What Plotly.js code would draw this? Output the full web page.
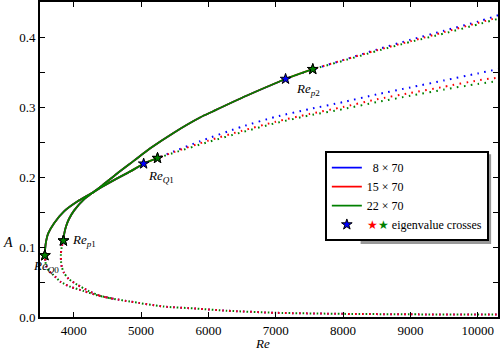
<!DOCTYPE html>
<html>
<head>
<meta charset="utf-8">
<script src="https://cdn.plot.ly/plotly-3.0.1.min.js"></script>
<style>html,body{margin:0;padding:0;background:#fff}</style>
</head>
<body>
<div id="chart" style="width:500px;height:350px"></div>
<script>
// resolutions and colours
var resNames = ['\u00a0\u00a08 × 70', '15 × 70', '22 × 70'];
var resColors = ['#0000ff', '#ff0000', '#008000'];

// solid branch from Re_Q0 up to Re_Q1
var qRe = [3572, 3576, 3590, 3620, 3709, 3857, 4054, 4251, 4424, 4645, 4842, 5039, 5245];
var qA  = [0.088, 0.097, 0.108, 0.119, 0.134, 0.151, 0.165, 0.176, 0.186, 0.198, 0.208, 0.219, 0.227];

// solid branch from Re_p1 up to Re_p2
var pRe = [3847, 3860, 3885, 3930, 4005, 4153, 4300, 4424, 4645, 4891, 5137, 5482, 5876, 6073, 6566, 7146, 7550];
var pA  = [0.109, 0.119, 0.129, 0.140, 0.152, 0.168, 0.179, 0.188, 0.205, 0.223, 0.241, 0.263, 0.285, 0.294, 0.316, 0.340, 0.354];

// lower (dotted) branch from Re_Q0, until it runs into the one from Re_p1
var lowQ0Re = [3572, 3580, 3600, 3640, 3700, 3808, 3956, 4153, 4350, 4591];
var lowQ0A  = [0.088, 0.079, 0.071, 0.065, 0.060, 0.050, 0.043, 0.037, 0.031, 0.026];
// lower branch from Re_p1 and its long tail
var lowP1Re = [3847, 3822, 3810, 3812, 3825, 3857, 3931, 4054, 4226, 4399, 4591,
               4842, 5329, 5831, 6275, 7000, 8000, 9000, 10000, 10300];
var lowP1A  = [0.109, 0.100, 0.090, 0.080, 0.071, 0.063, 0.054, 0.046, 0.037, 0.030, 0.026,
               0.022, 0.015, 0.012, 0.009, 0.006, 0.0045, 0.0038, 0.0035, 0.0035];

// dotted continuation after Re_Q1, per resolution
var midBlueRe = [5039, 5500, 5876, 6500, 7000, 7500, 8000, 8500, 9000, 9500, 10000, 10300];
var midBlueA  = [0.219, 0.237, 0.251, 0.272, 0.286, 0.297, 0.307, 0.318, 0.328, 0.338, 0.348, 0.354];
var midRe = [5245, 5500, 6000, 6500, 7000, 7500, 8000, 8500, 9000, 9500, 10000, 10300];
var midRedA   = [0.227, 0.236, 0.252, 0.266, 0.279, 0.290, 0.300, 0.311, 0.320, 0.329, 0.338, 0.342];
var midGreenA = [0.227, 0.235, 0.250, 0.264, 0.277, 0.288, 0.297, 0.307, 0.316, 0.325, 0.333, 0.337];

// dotted continuation after Re_p2, per resolution
var topBlueRe = [7146, 7500, 8000, 8500, 9000, 9500, 10000, 10300];
var topBlueA  = [0.340, 0.352, 0.367, 0.382, 0.396, 0.409, 0.422, 0.431];
var topRe = [7550, 8000, 8500, 9000, 9500, 10000, 10300];
var topRedA   = [0.354, 0.367, 0.381, 0.394, 0.407, 0.420, 0.428];
var topGreenA = [0.354, 0.366, 0.380, 0.393, 0.405, 0.418, 0.426];

// eigenvalue crosses: Re_Q0, Re_p1, Re_Q1, Re_p2
var starBlueRe = [3572, 3847, 5039, 7146];
var starBlueA  = [0.088, 0.109, 0.219, 0.340];
var starRe = [3572, 3847, 5245, 7550];
var starA  = [0.088, 0.109, 0.227, 0.354];
var starLabels = ['<i>Re</i><sub><i>Q</i>0</sub>', '<i>Re</i><sub><i>p</i>1</sub>',
                  '<i>Re</i><sub><i>Q</i>1</sub>', '<i>Re</i><sub><i>p</i>2</sub>'];

var xTicks = [4000, 5000, 6000, 7000, 8000, 9000, 10000];
var yTicks = [0, 0.05, 0.1, 0.15, 0.2, 0.25, 0.3, 0.35, 0.4];
var yTickText = ['0.0', '', '0.1', '', '0.2', '', '0.3', '', '0.4'];

var serif = 'Liberation Serif';

function upTo(xs, ys, xmax) {
  var x = [], y = [];
  for (var i = 0; i < xs.length; i++) {
    if (xs[i] <= xmax) { x.push(xs[i]); y.push(ys[i]); }
  }
  return {x: x, y: y};
}

var perRes = [
  {mid: [midBlueRe, midBlueA], top: [topBlueRe, topBlueA], sRe: starBlueRe, sA: starBlueA},
  {mid: [midRe, midRedA], top: [topRe, topRedA], sRe: starRe, sA: starA},
  {mid: [midRe, midGreenA], top: [topRe, topGreenA], sRe: starRe, sA: starA}
];
// blue and red share a phase, green is shifted so the dots interleave
var dotDash = ['0px,3.5px,1.6px,1.9px', '0px,3.5px,1.6px,1.9px', '1.6px,5.4px'];

var data = [];
perRes.forEach(function (r, i) {
  var c = resColors[i];
  var solid = {color: c, width: 1.8, shape: 'spline', smoothing: 0.8};
  var dotted = {color: c, width: 2, dash: dotDash[i], shape: 'spline', smoothing: 0.6};
  var q = upTo(qRe, qA, r.sRe[2]);
  var p = upTo(pRe, pA, r.sRe[3]);
  data.push({x: q.x, y: q.y, mode: 'lines', line: solid, name: resNames[i]});
  data.push({x: p.x, y: p.y, mode: 'lines', line: solid, showlegend: false});
  data.push({x: lowQ0Re, y: lowQ0A, mode: 'lines', line: dotted, showlegend: false});
  data.push({x: lowP1Re, y: lowP1A, mode: 'lines', line: dotted, showlegend: false});
  data.push({x: r.mid[0], y: r.mid[1], mode: 'lines', line: dotted, showlegend: false});
  data.push({x: r.top[0], y: r.top[1], mode: 'lines', line: dotted, showlegend: false});
});
perRes.forEach(function (r, i) {
  data.push({
    x: r.sRe, y: r.sA, mode: 'markers',
    marker: {symbol: 'star', size: 8, color: resColors[i], line: {color: '#000', width: 1}},
    name: '<span style="color:#ff0000">★</span><span style="color:#008000">★</span> eigenvalue crosses',
    showlegend: i === 0
  });
});

var labelShift = [[-14, -11], [7, 0], [2, -13], [8, -10]];
var annotations = starLabels.map(function (t, k) {
  return {
    x: starBlueRe[k], y: starBlueA[k], text: t, showarrow: false,
    xanchor: 'left', yanchor: 'middle', xshift: labelShift[k][0], yshift: labelShift[k][1],
    font: {family: serif, size: 13}
  };
});
annotations.push({xref: 'paper', yref: 'paper', x: -0.07, y: 0.235, text: '<i>A</i>',
  xanchor: 'center', yanchor: 'middle', showarrow: false, font: {family: serif, size: 14}});
annotations.push({xref: 'paper', yref: 'paper', x: 0.486, y: -0.084, text: '<i>Re</i>',
  xanchor: 'center', yanchor: 'middle', showarrow: false, font: {family: serif, size: 13}});

var axisStyle = {
  ticks: 'inside', ticklen: 5, tickwidth: 1, tickcolor: '#000',
  showline: true, linewidth: 2, linecolor: '#000', mirror: 'allticks',
  showgrid: false, zeroline: false,
  tickfont: {family: serif, size: 13, color: '#000'}
};

var layout = {
  width: 500, height: 350,
  margin: {l: 40, r: 2, t: 2, b: 33},
  paper_bgcolor: '#fff', plot_bgcolor: '#fff',
  font: {family: serif, size: 13, color: '#000'},
  showlegend: true,
  legend: {x: 0.98, xanchor: 'right', y: 0.384, yanchor: 'middle', bgcolor: '#fff',
    bordercolor: '#000', borderwidth: 2, font: {family: serif, size: 12}, itemwidth: 30, tracegroupgap: 0},
  // drop shadow behind the legend box
  shapes: [{type: 'rect', xref: 'paper', yref: 'paper', x0: 0.7, x1: 0.985, y0: 0.232, y1: 0.517,
    fillcolor: '#999', line: {width: 0}, layer: 'above'}],
  xaxis: Object.assign({range: [3500, 10300], tickvals: xTicks, tickformat: 'd'}, axisStyle),
  yaxis: Object.assign({range: [0, 0.45], tickvals: yTicks, ticktext: yTickText}, axisStyle),
  annotations: annotations
};

Plotly.newPlot('chart', data, layout, {displayModeBar: false, responsive: false});
</script>
</body>
</html>
